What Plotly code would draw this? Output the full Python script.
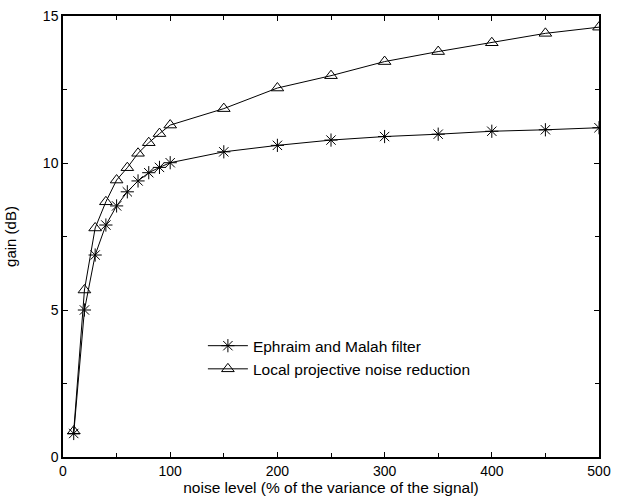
import plotly.graph_objects as go

noise = [10, 20, 30, 40, 50, 60, 70, 80, 90, 100, 150, 200, 250, 300, 350, 400, 450, 500]
em_gain = [0.8, 5.0, 6.87, 7.89, 8.54, 9.02, 9.39, 9.67, 9.85, 10.01, 10.38, 10.6, 10.78, 10.9, 10.98, 11.08, 11.13, 11.2]
lp_gain = [0.88, 5.68, 7.79, 8.68, 9.42, 9.84, 10.33, 10.69, 11.0, 11.29, 11.85, 12.55, 12.97, 13.45, 13.79, 14.09, 14.41, 14.62]

FONT = "Liberation Sans, Arial, sans-serif"

fig = go.Figure()
fig.add_trace(go.Scatter(x=noise, y=em_gain, mode="lines+markers", name="Ephraim and Malah filter",
                         line=dict(color="black", width=1),
                         marker=dict(symbol="asterisk-open", size=11, color="black", line=dict(width=1, color="black"))))
fig.add_trace(go.Scatter(x=noise, y=lp_gain, mode="lines+markers", name="Local projective noise reduction",
                         line=dict(color="black", width=1),
                         marker=dict(symbol="triangle-up-open", size=11, color="black", line=dict(width=1, color="black"))))

axis_common = dict(showgrid=False, zeroline=False, showline=True, linecolor="black", linewidth=1.5,
                   mirror="ticks", ticks="inside", ticklen=5, tickcolor="black", automargin=False,
                   tickfont=dict(family=FONT, size=14, color="black"))
fig.update_xaxes(range=[0, 500], tickvals=[0, 100, 200, 300, 400, 500],
                 minor=dict(tickvals=[50, 150, 250, 350, 450], ticks="inside", ticklen=4, tickcolor="black"),
                 title=dict(text="noise level (% of the variance of the signal)", standoff=4,
                            font=dict(family=FONT, size=15.5, color="black")),
                 **axis_common)
fig.update_yaxes(range=[0, 15], tickvals=[0, 5, 10, 15],
                 minor=dict(tickvals=[2.5, 7.5, 12.5], ticks="inside", ticklen=4, tickcolor="black"),
                 title=dict(text="gain (dB)", standoff=23,
                            font=dict(family=FONT, size=15, color="black")),
                 **axis_common)
fig.update_layout(width=623, height=499, margin=dict(l=63, r=24, t=16, b=42),
                  paper_bgcolor="white", plot_bgcolor="white", showlegend=True,
                  legend=dict(x=0.261, y=0.29, xanchor="left", yanchor="top", bgcolor="rgba(0,0,0,0)",
                              font=dict(family=FONT, size=15.5, color="black"),
                              tracegroupgap=0, itemwidth=40))
fig.write_html("out.html")
